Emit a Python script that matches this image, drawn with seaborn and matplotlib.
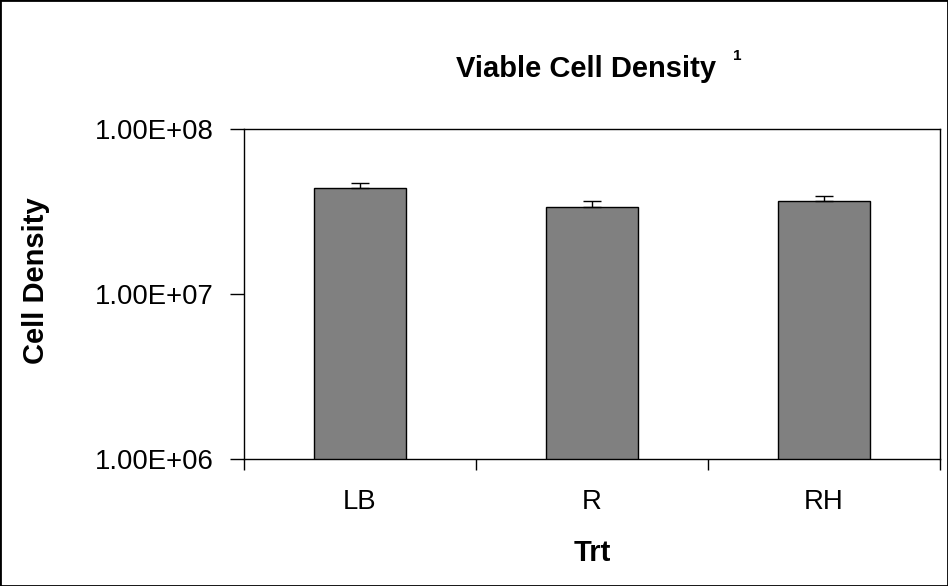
import matplotlib
matplotlib.use("Agg")
import matplotlib.pyplot as plt
from matplotlib.patches import Rectangle
import seaborn as sns
import pandas as pd

categories = ["LB", "R", "RH"]
values = [4.37e7, 3.38e7, 3.65e7]
errors = [3.6e6, 2.7e6, 2.9e6]
ytick_values = [1e6, 1e7, 1e8]
ytick_labels = ["1.00E+06", "1.00E+07", "1.00E+08"]
title = "Viable Cell Density"
title_sup = "1"
xlabel = "Trt"
ylabel = "Cell Density"

sns.set_theme(style="white")
plt.rcParams["font.family"] = ["Liberation Sans", "DejaVu Sans"]
plt.rcParams["text.color"] = "black"
plt.rcParams["axes.labelcolor"] = "black"
plt.rcParams["xtick.color"] = "black"
plt.rcParams["ytick.color"] = "black"

df = pd.DataFrame({"Trt": categories, "Value": values})

fig = plt.figure(figsize=(9.48, 5.86), dpi=100)
ax = fig.add_axes([244 / 948, 1 - 459 / 586, (940 - 244) / 948, (459 - 129) / 586])

sns.barplot(data=df, x="Trt", y="Value", color="#808080", edgecolor="black",
            linewidth=1.0, width=0.4, errorbar=None, saturation=1, ax=ax)
ax.set_yscale("log")
ax.errorbar(range(len(categories)), values, yerr=[[0] * len(errors), errors],
            fmt="none", ecolor="black", elinewidth=1.0, capsize=6.5, capthick=1.0)

ax.set_ylim(1e6, 1e8)
ax.set_xlim(-0.5, len(categories) - 0.5)

ax.set_yticks(ytick_values)
ax.set_yticklabels(ytick_labels, fontsize=19.8, color="black")
ax.yaxis.set_minor_locator(matplotlib.ticker.NullLocator())
ax.tick_params(axis="y", which="major", direction="out", length=10, width=1,
               color="black", pad=12, left=True)

# category boundaries as tick marks, labels at centers
ax.set_xticks([i - 0.5 for i in range(len(categories) + 1)])
ax.set_xticklabels([""] * (len(categories) + 1))
ax.set_xticks(range(len(categories)), minor=True)
ax.set_xticklabels(categories, minor=True, fontsize=19.8, color="black")
ax.tick_params(axis="x", which="major", direction="out", length=8, width=1,
               color="black", bottom=True)
ax.tick_params(axis="x", which="minor", length=0, pad=21.5)

for s in ax.spines.values():
    s.set_visible(True)
    s.set_color("black")
    s.set_linewidth(1.0)

ax.set_xlabel(xlabel, fontsize=21, fontweight="bold", color="black")
ax.set_ylabel(ylabel, fontsize=21, fontweight="bold", color="black")
ax.xaxis.set_label_coords(0.5, -0.243)
ax.yaxis.set_label_coords(-0.279, 0.54)

fig.text(586.5 / 948, 1 - 77 / 586, title, ha="center", va="baseline",
         fontsize=21, fontweight="bold", color="black")
fig.text(733 / 948, 1 - 60 / 586, title_sup, ha="left", va="baseline",
         fontsize=11, fontweight="bold", color="black")

fig.patches.append(Rectangle((0, 0), 1, 1, transform=fig.transFigure, fill=False,
                             edgecolor="black", linewidth=2.0, zorder=10))

fig.savefig("out.png", dpi=100, facecolor="white")
